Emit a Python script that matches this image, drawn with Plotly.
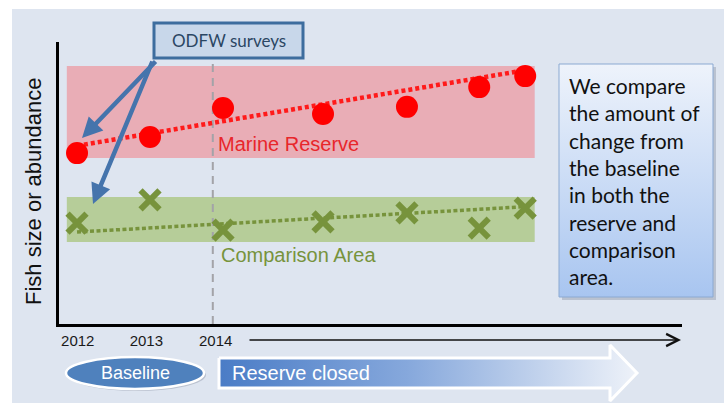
import plotly.graph_objects as go

W, H = 724, 403

# ---------------- data ----------------
survey_years = [2012, 2013, 2014, 2015.37, 2016.52, 2017.51, 2018.14]
reserve_values = [60.6, 66.3, 76.6, 74.5, 77.0, 84.0, 87.9]
comparison_values = [35.8, 44.0, 33.3, 36.2, 39.4, 34.0, 41.1]
reserve_trend_x = [2012, 2018.14]
reserve_trend_y = [63.2, 90.0]
comparison_trend_x = [2012, 2018.14]
comparison_trend_y = [32.6, 41.6]
reserve_band = [58.9, 91.5]
comparison_band = [29.1, 45.0]
band_x = [2011.86, 2018.27]
closure_year = 2013.86
closure_line_top = 93.6
tick_positions = [2012.01, 2012.95, 2013.9]
tick_labels = ["2012", "2013", "2014"]

# ---------------- helpers (pixel -> paper) ----------------
def px(x):
    return x / W


def py(y):
    return 1 - y / H


BG = "#dee5f0"
ARIAL = "Liberation Sans, Arial, sans-serif"
CAL = "Lato, Carlito, Calibri, sans-serif"

fig = go.Figure()

# trend lines
fig.add_trace(go.Scatter(x=reserve_trend_x, y=reserve_trend_y, mode="lines",
                         line=dict(color="#ff1a1a", width=4.5, dash="4px,3px"),
                         hoverinfo="skip", showlegend=False))
fig.add_trace(go.Scatter(x=comparison_trend_x, y=comparison_trend_y, mode="lines",
                         line=dict(color="#77933c", width=3.5, dash="4px,2.5px"),
                         hoverinfo="skip", showlegend=False))
# points
fig.add_trace(go.Scatter(x=survey_years, y=reserve_values, mode="markers",
                         marker=dict(symbol="circle", size=22, color="#ff0000",
                                     line=dict(width=0)),
                         hoverinfo="skip", showlegend=False))
fig.add_trace(go.Scatter(x=survey_years, y=comparison_values, mode="markers",
                         marker=dict(symbol="x-thin", size=19, color="#77933c",
                                     line=dict(width=6, color="#77933c")),
                         hoverinfo="skip", showlegend=False))

# ---------- overlay (pixel space) decorations ----------
bx0, bx1, by0, by1 = 559, 713, 64, 297
fig.add_trace(go.Scatter(x=[bx0 + 3, bx1 + 3, bx1 + 3, bx0 + 3, bx0 + 3],
                         y=[by0 + 3, by0 + 3, by1 + 3, by1 + 3, by0 + 3],
                         xaxis="x2", yaxis="y2", mode="lines", fill="toself",
                         fillcolor="rgba(120,130,150,0.35)", line=dict(width=0),
                         hoverinfo="skip", showlegend=False))
fig.add_trace(go.Scatter(x=[bx0, bx1, bx1, bx0, bx0], y=[by0, by0, by1, by1, by0],
                         xaxis="x2", yaxis="y2", mode="lines", fill="toself",
                         fillgradient=dict(type="vertical",
                                           colorscale=[[0, "#a8c5f0"], [1, "#eef3fb"]]),
                         line=dict(color="#8ba9d2", width=1),
                         hoverinfo="skip", showlegend=False))

ax_pts_x = [219, 610, 610, 637, 610, 610, 219, 219]
ax_pts_y = [358, 358, 345, 373, 401, 388, 388, 358]
fig.add_trace(go.Scatter(x=ax_pts_x, y=ax_pts_y, xaxis="x2", yaxis="y2",
                         mode="lines", fill="toself",
                         fillgradient=dict(type="horizontal",
                                           colorscale=[[0, "#4a7cc6"], [0.45, "#86a8dc"],
                                                       [1, "#eef2f9"]]),
                         line=dict(color="white", width=3),
                         hoverinfo="skip", showlegend=False))

shapes = []
shapes.append(dict(type="rect", xref="paper", yref="paper", x0=px(12), x1=1,
                   y0=0, y1=py(9), fillcolor=BG, line=dict(width=0), layer="below"))
shapes.append(dict(type="rect", xref="x", yref="y", x0=band_x[0], x1=band_x[1],
                   y0=reserve_band[0], y1=reserve_band[1],
                   fillcolor="#e9adb6", line=dict(width=0), layer="below"))
shapes.append(dict(type="rect", xref="x", yref="y", x0=band_x[0], x1=band_x[1],
                   y0=comparison_band[0], y1=comparison_band[1],
                   fillcolor="#b6cd99", line=dict(width=0), layer="below"))
shapes.append(dict(type="line", xref="x", yref="y", x0=closure_year, x1=closure_year,
                   y0=0, y1=closure_line_top,
                   line=dict(color="#a3a3a8", width=2, dash="8px,6px"), layer="below"))
shapes.append(dict(type="rect", xref="paper", yref="paper", x0=px(154), x1=px(303),
                   y0=py(58), y1=py(23), fillcolor="#c8d7ea",
                   line=dict(color="#3d6d9e", width=3)))
shapes.append(dict(type="circle", xref="paper", yref="paper", x0=px(68), x1=px(206),
                   y0=py(391), y1=py(359), fillcolor="rgba(120,130,150,0.35)",
                   line=dict(width=0)))
shapes.append(dict(type="circle", xref="paper", yref="paper", x0=px(66), x1=px(204),
                   y0=py(389), y1=py(357), fillcolor="#4f81bd",
                   line=dict(color="white", width=2.5)))


def label(x, y, text, size, color, family=ARIAL, xanchor="center", **kw):
    return dict(xref="paper", yref="paper", x=px(x), y=py(y), text=text,
                xanchor=xanchor, yanchor="middle", showarrow=False,
                font=dict(family=family, size=size, color=color), **kw)


annotations = [
    label(33, 192, "Fish size or abundance", 22, "#111111", textangle=-90),
    label(216, 144, "Marine Reserve", 20, "#e8262b", xanchor="left"),
    label(219, 255, "Comparison Area", 20, "#77933c", xanchor="left"),
    label(228.5, 41, "ODFW surveys", 17, "#2b4663", family=CAL),
    label(567, 180.5,
          "We compare<br>the amount of<br>change from<br>the baseline"
          "<br>in both the<br>reserve and<br>comparison<br>area.",
          21, "#111111", family=CAL, xanchor="left", align="left"),
    label(135, 373, "Baseline", 18, "white"),
    label(230, 373, "Reserve closed", 20, "white", xanchor="left"),
]
for (tx, ty, hx, hy) in [(157, 60, 82, 138), (153, 60, 93, 204)]:
    annotations.append(dict(xref="paper", yref="paper", x=px(hx), y=py(hy),
                            ax=tx - hx, ay=ty - hy, axref="pixel", ayref="pixel",
                            text="", showarrow=True, arrowhead=2, arrowsize=0.9,
                            arrowwidth=4.5, arrowcolor="#4574ac", standoff=0))
annotations.append(dict(xref="paper", yref="paper", x=px(681), y=py(340),
                        ax=248 - 681, ay=0, text="", showarrow=True, arrowhead=5,
                        arrowsize=1.6, arrowwidth=1.5, arrowcolor="#111111", standoff=0))

fig.update_layout(
    width=W, height=H,
    margin=dict(l=0, r=0, t=0, b=0),
    paper_bgcolor="white",
    plot_bgcolor="rgba(0,0,0,0)",
    showlegend=False,
    hovermode=False,
    shapes=shapes,
    annotations=annotations,
    xaxis=dict(domain=[px(59), px(682)], range=[2011.753, 2020.288],
               showgrid=False, zeroline=False, showline=True, linecolor="#000000",
               linewidth=2.5, tickvals=tick_positions, ticktext=tick_labels,
               ticks="outside", ticklen=1, tickcolor="rgba(0,0,0,0)",
               tickfont=dict(family=ARIAL, size=15, color="#1a1a1a"),
               fixedrange=True),
    yaxis=dict(domain=[py(324), py(42)], range=[0, 100], showgrid=False,
               zeroline=False, showline=True, linecolor="#000000", linewidth=2.5,
               showticklabels=False, ticks="", fixedrange=True),
    xaxis2=dict(domain=[0, 1], range=[0, W], visible=False, anchor="y2",
                fixedrange=True),
    yaxis2=dict(domain=[0, 1], range=[H, 0], visible=False, anchor="x2",
                fixedrange=True),
)

fig.write_html("out.html", config={"displayModeBar": False},
               post_script="document.body.style.margin='0';")
